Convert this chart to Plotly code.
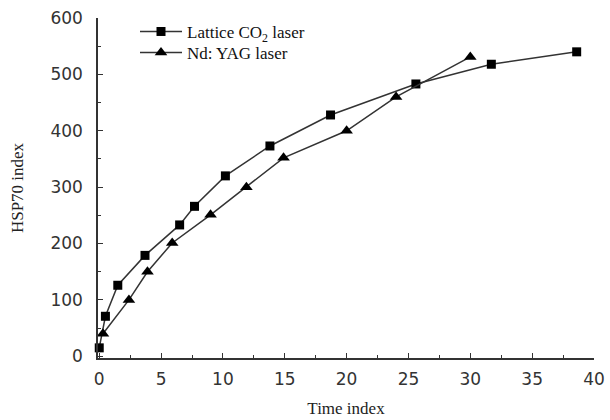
import plotly.graph_objects as go

co2_x = [0, 0.5, 1.5, 3.7, 6.5, 7.7, 10.2, 13.8, 18.7, 25.6, 31.7, 38.6]
co2_y = [15, 71, 126, 179, 233, 266, 320, 373, 428, 483, 518, 540]
yag_x = [0.3, 2.4, 3.9, 5.9, 9.0, 11.9, 14.9, 20.0, 24.0, 30.0]
yag_y = [40, 100, 150, 201, 251, 300, 352, 400, 460, 531]

serif = "Liberation Serif, Times New Roman"
fig = go.Figure()
fig.add_trace(go.Scatter(x=co2_x, y=co2_y, mode="lines+markers", name="Lattice CO<sub>2</sub> laser",
                         line=dict(color="#333333", width=1.5), legend="legend",
                         marker=dict(symbol="square", size=9, color="black"), cliponaxis=False))
fig.add_trace(go.Scatter(x=yag_x, y=yag_y, mode="lines+markers", name="Nd: YAG laser",
                         line=dict(color="#333333", width=1.5), legend="legend2",
                         marker=dict(symbol="triangle-up", size=11, color="black"), cliponaxis=False))

axis_common = dict(showline=True, linecolor="#333333", linewidth=1.5, showgrid=False, zeroline=False,
                   ticks="inside", ticklen=5, tickcolor="#333333", tickwidth=1.2, automargin=False,
                   tickfont=dict(family="DejaVu Sans", size=17, color="#333333"))
leg_common = dict(xanchor="left", yanchor="top", bgcolor="rgba(0,0,0,0)", itemwidth=42,
                  font=dict(family=serif, size=17, color="#111"))
fig.update_layout(
    width=610, height=420, plot_bgcolor="white", paper_bgcolor="white",
    margin=dict(l=98, r=16, t=18, b=62),
    xaxis=dict(range=[-0.1, 40], tick0=0, dtick=5, ticklabelstandoff=5,
               minor=dict(ticks="inside", ticklen=3, dtick=2.5, tick0=0, tickcolor="#333333"),
               title=dict(text="Time index", font=dict(family=serif, size=17, color="#222"), standoff=14),
               **axis_common),
    yaxis=dict(range=[-3, 600], tick0=0, dtick=100, ticklabelstandoff=10,
               minor=dict(ticks="inside", ticklen=3, dtick=50, tick0=0, tickcolor="#333333"),
               title=dict(text="HSP70 index", font=dict(family=serif, size=17, color="#222"), standoff=22),
               **axis_common),
    legend=dict(x=0.0746, y=1.012, **leg_common),
    legend2=dict(x=0.0746, y=0.95, **leg_common),
    showlegend=True,
)
fig.write_html("out.html")
